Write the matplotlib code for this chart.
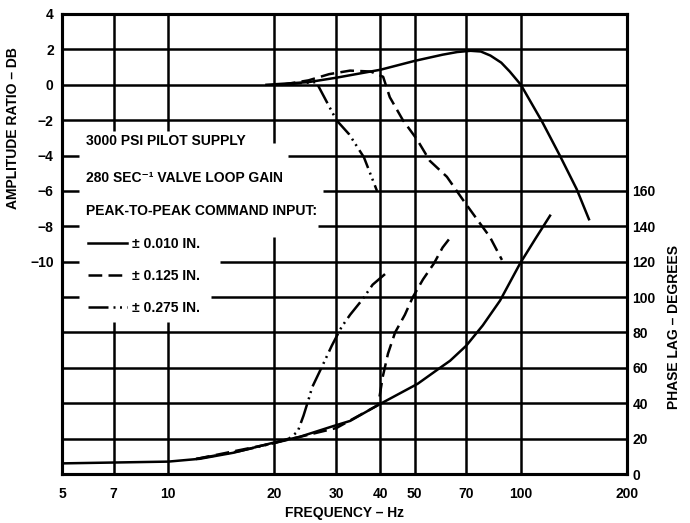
import matplotlib
matplotlib.use('Agg')
import matplotlib.pyplot as plt

plt.rcParams['font.family'] = ['Liberation Sans', 'DejaVu Sans']
plt.rcParams['font.weight'] = 'bold'

# axis ticks
freq_ticks = [5, 7, 10, 20, 30, 40, 50, 70, 100, 200]
db_ticks = [4, 2, 0, -2, -4, -6, -8, -10]
phase_ticks = [0, 20, 40, 60, 80, 100, 120, 140, 160]

# amplitude ratio (dB)
amp_f_010 = [19, 25, 30, 40, 50, 60, 66, 72, 77, 82, 88, 93, 100, 115, 129, 144, 156]
amp_db_010 = [0, 0.15, 0.4, 0.85, 1.35, 1.7, 1.85, 1.92, 1.88, 1.65, 1.25, 0.75, 0, -2.1, -4.0, -5.9, -7.6]

amp_f_125 = [21, 25, 28.6, 32.8, 37.5, 40.7, 42.5, 46.3, 50.8, 55.2, 61.7, 68.5, 75.1, 81.7, 88.4]
amp_db_125 = [0, 0.25, 0.6, 0.8, 0.75, 0.45, -0.7, -2.0, -3.1, -4.3, -5.2, -6.5, -7.6, -8.6, -9.9]

amp_f_275 = [21, 24, 26.3, 30, 32.6, 35.9, 39.1]
amp_db_275 = [0, 0.1, 0.15, -2.0, -2.8, -4.1, -6.0]

# phase lag (degrees)
ph_f_010 = [5, 10, 12.3, 15.3, 19.7, 23.6, 29.3, 32.8, 39.4, 51, 59, 63, 70, 78, 87.3, 99.5, 110, 121]
ph_010 = [6, 7, 8.6, 12, 17.5, 21, 27, 30, 39, 51, 60, 64, 72.5, 84, 98, 119, 133, 146]

ph_f_125 = [12, 20, 30, 39.4, 40.6, 42, 44, 46.9, 49.4, 52.8, 56.7, 60, 63.3]
ph_125 = [8.5, 17.5, 26, 39, 55, 68, 80, 90, 100, 110, 119, 128, 134]

ph_f_275 = [12, 16, 20, 22, 23.3, 24.2, 25.0, 25.6, 27.2, 29.1, 31, 32.8, 35.5, 38, 41.2]
ph_275 = [8.5, 13, 17.5, 20, 24, 33, 42, 49, 60, 72.5, 83, 90, 98.5, 107, 113]

labels = ['± 0.010 IN.', '± 0.125 IN.', '± 0.275 IN.']

fig = plt.figure(figsize=(6.9, 5.23), dpi=100)
ax = fig.add_axes([62 / 690, 49 / 523, 565 / 690, 460 / 523])
ax.set_xscale('log')
ax.set_xlim(5, 200)
ax.set_ylim(-22, 4)

# grid, broken where the note box sits
grid_kw = dict(color='black', linewidth=1.8, zorder=1, capstyle='butt')
v_gaps = {7: (-13.4, -2.6), 10: (-13.4, -2.6), 20: (-8.6, -3.3)}
for f in freq_ticks[1:-1]:
    if f in v_gaps:
        lo, hi = v_gaps[f]
        ax.vlines(f, -22, lo, **grid_kw)
        ax.vlines(f, hi, 4, **grid_kw)
    else:
        ax.vlines(f, -22, 4, **grid_kw)
h_gaps = {-4: 21.9, -6: 27.5, -8: 26.6, -10: 14.0, -12: 13.2}
for d in range(2, -21, -2):
    if d in h_gaps:
        ax.hlines(d, 5, 5.6, **grid_kw)
        ax.hlines(d, h_gaps[d], 200, **grid_kw)
    else:
        ax.hlines(d, 5, 200, **grid_kw)

dash = (0, (5.5, 2.5))
dashdot = (0, (8, 2, 0.8, 1.8, 0.8, 2))
lw = 1.8
l1, = ax.plot(amp_f_010, amp_db_010, color='black', lw=lw, zorder=3)
l2, = ax.plot(amp_f_125, amp_db_125, color='black', lw=lw, ls=dash, zorder=3)
l3, = ax.plot(amp_f_275, amp_db_275, color='black', lw=lw, ls=dashdot, zorder=3)

ax.set_xticks(freq_ticks)
ax.set_xticklabels([str(f) for f in freq_ticks])
ax.xaxis.set_minor_locator(matplotlib.ticker.NullLocator())
ax.set_yticks(db_ticks)
ax.set_yticklabels([str(d).replace('-', '−') for d in db_ticks])
ax.tick_params(axis='x', length=0, pad=9, labelsize=10)
ax.tick_params(axis='y', length=0, pad=6, labelsize=10)
for s in ax.spines.values():
    s.set_linewidth(2.2)

ax.set_xlabel('FREQUENCY – Hz', fontsize=10, fontweight='bold', labelpad=4)
ax.set_ylabel('AMPLITUDE RATIO – DB', fontsize=10, fontweight='bold')
ax.yaxis.set_label_coords(-0.074, 0.752)

ax2 = ax.twinx()
ax2.set_ylim(0, 260)
ax2.plot(ph_f_010, ph_010, color='black', lw=lw, zorder=3)
ax2.plot(ph_f_125, ph_125, color='black', lw=lw, ls=dash, zorder=3)
ax2.plot(ph_f_275, ph_275, color='black', lw=lw, ls=dashdot, zorder=3)
ax2.set_yticks(phase_ticks)
ax2.set_yticklabels([str(p) for p in phase_ticks])
ax2.tick_params(axis='y', length=0, pad=4, labelsize=10)
ax2.set_ylabel('PHASE LAG – DEGREES', fontsize=10, fontweight='bold')
ax2.yaxis.set_label_coords(1.07, 0.32)
for s in ax2.spines.values():
    s.set_linewidth(2.2)

# note box
ax.text(5.85, -3.2, '3000 PSI PILOT SUPPLY', fontsize=10, fontweight='bold', va='center')
ax.text(5.85, -5.25, '280 SEC⁻¹ VALVE LOOP GAIN', fontsize=10, fontweight='bold', va='center')
ax.text(5.85, -7.15, 'PEAK-TO-PEAK COMMAND INPUT:', fontsize=10, fontweight='bold', va='center')
leg = ax.legend([l1, l2, l3], labels, loc='upper left', bbox_to_anchor=(0.046, 0.515),
                frameon=False, borderpad=0, borderaxespad=0, handlelength=2.8,
                handletextpad=0.35, labelspacing=1.3, prop={'size': 10, 'weight': 'bold'})

plt.savefig('out.png', dpi=100)
